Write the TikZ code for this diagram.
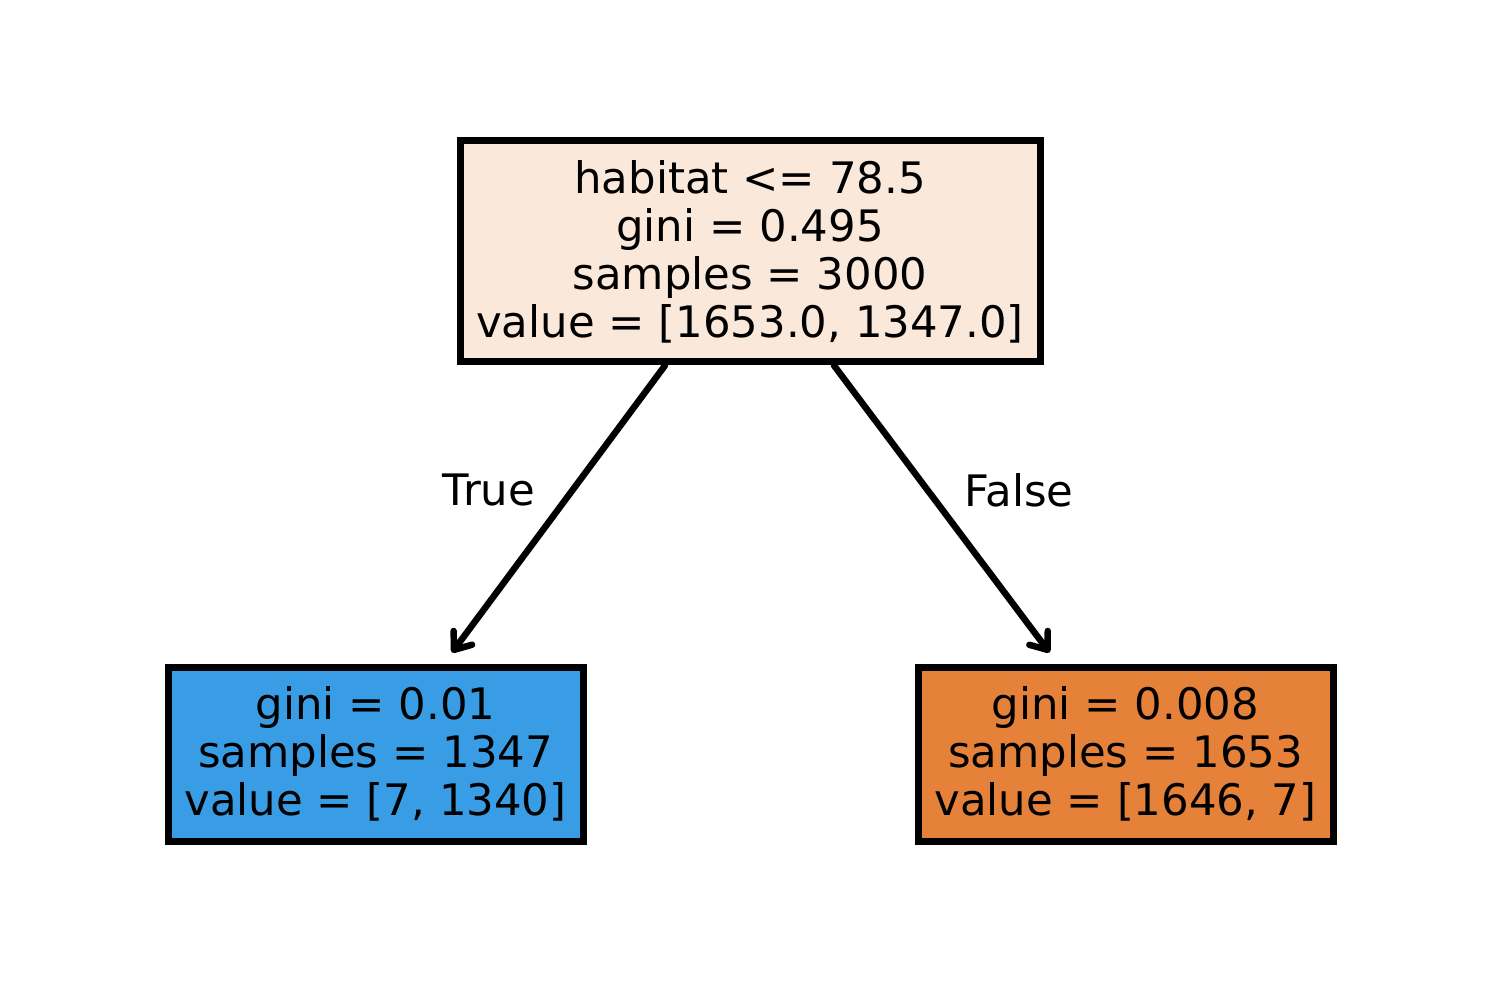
\documentclass[tikz,border=0pt]{standalone}
\usepackage{fontspec}
\setmainfont{DejaVu Sans}
\usetikzlibrary{arrows.meta,calc}
\definecolor{rootfill}{HTML}{FAE8DB}
\definecolor{leftfill}{HTML}{399DE5}
\definecolor{rightfill}{HTML}{E58139}
\tikzset{
  treebox/.style={draw=black, line width=0.14cm, align=center, inner sep=0pt,
    font=\fontsize{24.7pt}{27.3pt}\selectfont},
  edgearrow/.style={line width=0.13cm, line cap=round,
    -{Straight Barb[length=0.3cm,width=0.46cm,line cap=round,line join=round]}},
  edgelabel/.style={font=\fontsize{24.7pt}{27.3pt}\selectfont, inner sep=0pt}
}
\begin{document}
\begin{tikzpicture}[x=0.02cm,y=-0.02cm]
\useasboundingbox (0,0) rectangle (1500,1006);
\node[treebox, fill=rootfill, minimum width=580*0.02cm, minimum height=221*0.02cm] (root) at (750,251.5)
  {habitat <= 78.5\\gini = 0.495\\samples = 3000\\value = [1653.0, 1347.0]};
\node[treebox, fill=leftfill, minimum width=415*0.02cm, minimum height=174*0.02cm] (left) at (375.5,754)
  {gini = 0.01\\samples = 1347\\value = [7, 1340]};
\node[treebox, fill=rightfill, minimum width=415*0.02cm, minimum height=174*0.02cm] (right) at (1125.5,754)
  {gini = 0.008\\samples = 1653\\value = [1646, 7]};
\draw[edgearrow] ($(root.south)+(-85,0)$) -- ($(left.north)+(76.5,-11)$);
\draw[edgearrow] ($(root.south)+(84,0)$) -- ($(right.north)+(-76,-11)$);
\node[edgelabel] (tlabel) at (489,490) {True};
\node[edgelabel] (flabel) at (1019,490) {False};
\end{tikzpicture}
\end{document}
